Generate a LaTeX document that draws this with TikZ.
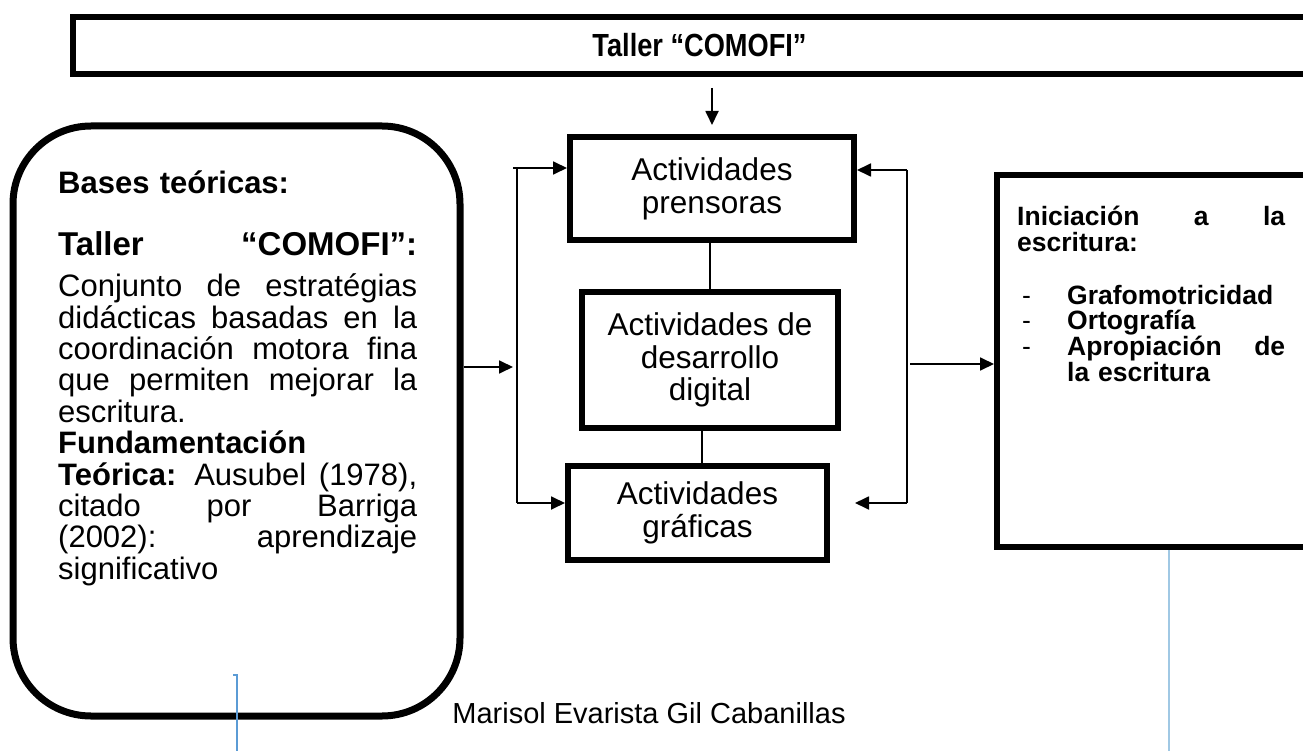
\documentclass[tikz,border=0pt]{standalone}
\usepackage{fontspec}
\setmainfont{Liberation Sans}
\newfontfamily\titulo{Liberation Sans}[FakeStretch=0.85]
\usetikzlibrary{arrows.meta}
\definecolor{azul}{RGB}{91,155,213}
\definecolor{celeste}{RGB}{160,200,228}
\tikzstyle{caja} = [draw=black, line width=6pt, inner sep=0pt, align=center, font={\fontsize{31.5}{33}\selectfont}]
\tikzstyle{flecha} = [line width=1.8pt, -{Triangle[length=14pt,width=13pt]}]
\tikzstyle{linea} = [line width=1.3pt]
\tikzstyle{texto} = [anchor=base west, inner sep=0pt, align=left]
\newcommand{\jline}[2][359pt]{\makebox[#1][s]{#2}}
\newcommand{\guion}{\makebox[50pt][l]{\mdseries\hspace{5pt}-}}

\begin{document}
\begin{tikzpicture}[x=1pt,y=-1pt]
        \useasboundingbox (0,0) rectangle (1303,751);
        \node[caja,font={\titulo\bfseries\fontsize{32}{36}\selectfont},minimum width=1253pt,minimum height=57pt](taller) at (699.5,45.5){Taller “COMOFI”};
        \node[caja,line width=7pt,rounded corners=78pt,minimum width=447pt,minimum height=590pt](bases) at (236.5,421){};
        \node[caja,minimum width=333pt,minimum height=372pt](inic) at (1163.5,361){};
        \node[caja,minimum width=284pt,minimum height=103pt](pren) at (712,188.5){Actividades\\prensoras};
        \node[caja,font={\fontsize{31.5}{32.5}\selectfont},minimum width=256pt,minimum height=136pt](desa) at (710,360){Actividades de\\desarrollo\\digital};
        \node[caja,minimum width=259pt,minimum height=94pt](graf) at (697.5,513){Actividades\\gráficas};
        \node[texto,text width=359pt,font={\fontsize{31}{31.4}\selectfont}](basestxt) at (58,194){%
          \textbf{Bases teóricas:}\\[30pt]
          \jline{\fontsize{33}{31.4}\selectfont\bfseries Taller \hfill “COMOFI”:}\\[10pt]
          \jline{Conjunto \hfill de \hfill estratégias}\\
          \jline{didácticas \hfill basadas \hfill en \hfill la}\\
          \jline{coordinación \hfill motora \hfill fina}\\
          \jline{que \hfill permiten \hfill mejorar \hfill la}\\
          escritura.\\
          \textbf{Fundamentación}\\
          \jline{\textbf{Teórica:} \hfill Ausubel \hfill (1978),}\\
          \jline{citado \hfill por \hfill Barriga}\\
          \jline{(2002): \hfill aprendizaje}\\
          significativo};
        \node[texto,text width=268pt,font={\bfseries\fontsize{26.5}{26}\selectfont}](inictxt) at (1017,226){%
          \jline[268pt]{Iniciación \hfill a \hfill la}\\
          escritura:\\[26pt]
          \guion Grafomotricidad\\
          \guion Ortografía\\
          \guion\jline[218pt]{Apropiación \hfill de}\\
          \hspace*{50pt}la escritura};
        \node[anchor=base,inner sep=0pt,font={\fontsize{29}{34}\selectfont}](autora) at (649,723){Marisol Evarista Gil Cabanillas};
        \coordinate(lbtop) at (517,168);
        \coordinate(lbbot) at (517,503);
        \coordinate(lbmid) at (517,367);
        \coordinate(rbtop) at (907,170);
        \coordinate(rbbot) at (907,503);
        \coordinate(rbmid) at (907,364);
        \coordinate(rbtip) at (855,503);
        \coordinate(marca) at (237,675);
        \coordinate(hilo) at (1169,751);
        \draw[flecha,shorten <=11pt,shorten >=9pt](taller.south -| pren.north)--(pren.north);
        \draw[linea](desa.north |- pren.south)--(desa.north);
        \draw[linea]([xshift=-8pt]desa.south)--([xshift=-8pt]desa.south |- graf.north);
        \draw[linea](lbtop)--(lbbot);
        \draw[flecha]([xshift=-4pt]lbtop)--(lbtop -| pren.west);
        \draw[flecha](lbbot)--(lbbot -| graf.west);
        \draw[flecha](bases.east |- lbmid)--([xshift=-4pt]lbmid);
        \draw[linea](rbtop)--(rbbot);
        \draw[flecha](rbtop)--(rbtop -| pren.east);
        \draw[flecha](rbbot)--(rbtip);
        \draw[flecha]([xshift=3pt]rbmid)--(rbmid -| inic.west);
        \draw[azul,line width=1.2pt]([xshift=-4pt]marca)--(marca)--(marca |- hilo);
        \draw[celeste,line width=1.2pt](inic.south -| hilo)--(hilo);
      \end{tikzpicture}
\end{document}
